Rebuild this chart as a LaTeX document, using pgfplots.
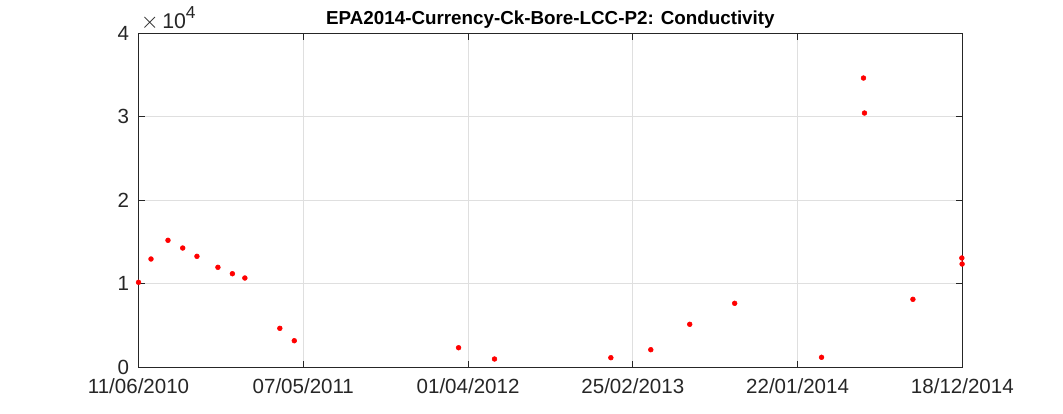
\documentclass[border=0pt]{standalone}
\usepackage{pgfplots}
\pgfplotsset{compat=1.18}
\usepackage{fontspec}
\setmainfont{Liberation Sans}
\definecolor{tickgray}{RGB}{38,38,38}
\definecolor{gridgray}{RGB}{223,223,223}
\begin{document}
\begin{tikzpicture}
\path[use as bounding box] (-103.9pt,-34.3pt) rectangle (693.4pt,275.5pt);
\begin{axis}[
  at={(0,0)}, anchor=south west,
  scale only axis, width=617.9pt, height=250.5pt,
  xmin=0, xmax=1650, ymin=0, ymax=40000,
  xtick={0,330,660,990,1320,1650},
  xticklabels={11/06/2010,07/05/2011,01/04/2012,25/02/2013,22/01/2014,18/12/2014},
  ytick={0,10000,20000,30000,40000},
  yticklabels={0,1,2,3,4},
  scaled y ticks=false,
  tick align=inside, tick pos=both,
  major tick length=5pt,
  grid=major,
  major grid style={gridgray, line width=0.5pt},
  axis line style={tickgray, line width=0.6pt},
  tick style={tickgray, line width=0.6pt},
  ticklabel style={font=\fontsize{15.4}{18}\selectfont, text=tickgray},
  /pgf/number format/assume math mode=true,
  xticklabel style={yshift=-5pt},
  yticklabel style={xshift=-3.5pt},
  title={\textbf{EPA2014-Currency-Ck-Bore-LCC-P2: Conductivity}},
  title style={font=\fontsize{14.1}{16}\selectfont, yshift=-5.5pt},
  clip=false,
]
\addplot[only marks, mark=*, mark size=1.8pt, color=red] coordinates {
(0,10180) (25,12970) (59,15210) (88.5,14287) (117,13293) (159,11976)
(188,11210) (213,10695) (283,4671) (312,3186) (641,2347) (713,994)
(946,1150) (1026,2108) (1104,5150) (1194,7665) (1368,1198)
(1452,34647) (1454,30455) (1551,8144) (1649,13090) (1649.5,12371)
};
\node[anchor=base west, inner sep=0pt, text=tickgray] at ([xshift=1.5pt,yshift=3.8pt]rel axis cs:0,1) {\fontsize{16}{18}\selectfont$\times$\,10\raisebox{0.45em}{\fontsize{13}{14}\selectfont 4}};
\end{axis}
\end{tikzpicture}
\end{document}
